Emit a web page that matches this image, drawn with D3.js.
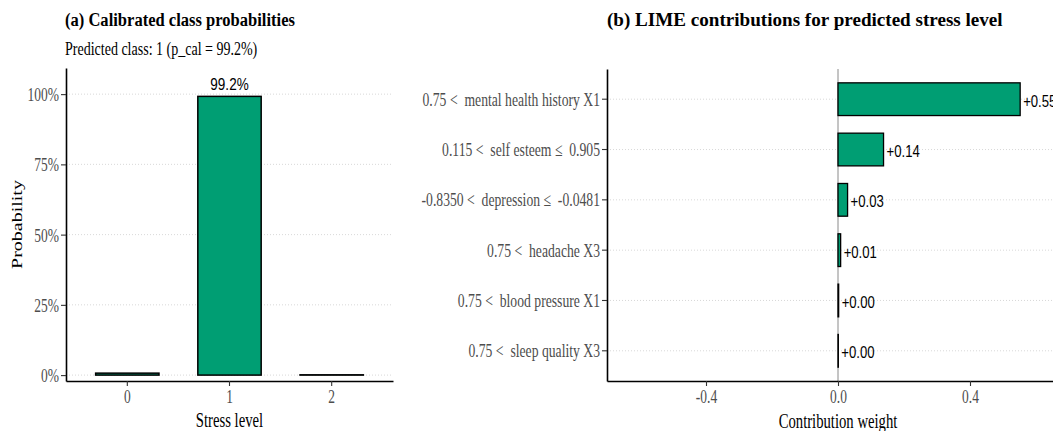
<!DOCTYPE html>
<html>
<head>
<meta charset="utf-8">
<script src="https://cdn.jsdelivr.net/npm/d3@7"></script>
<style>
  html, body { margin: 0; padding: 0; background: #ffffff; }
  svg { display: block; }
  text { white-space: pre; }
</style>
</head>
<body>
<script>
// ---- data -------------------------------------------------------------
const classes = ["0", "1", "2"];
const classProb = [0.007, 0.992, 0.001];
const probTicks = [0, 0.25, 0.5, 0.75, 1];

const features = [
  "0.75 <  mental health history X1",
  "0.115 <  self esteem \u2264  0.905",
  "-0.8350 <  depression \u2264  -0.0481",
  "0.75 <  headache X3",
  "0.75 <  blood pressure X1",
  "0.75 <  sleep quality X3"
];
const weights = [0.552, 0.138, 0.029, 0.008, 0.002, 0.001];
const weightTicks = [-0.4, 0, 0.4];

// ---- page setup -------------------------------------------------------
const W = 1053, H = 431;
const SERIF = "'Liberation Serif', 'Times New Roman', Times, serif";
const SANS = "'Liberation Sans', Arial, Helvetica, sans-serif";
const GREEN = "#009E73";
const TICK_TEXT = "#4d4d4d";

const svg = d3.select("body").append("svg")
  .attr("width", W).attr("height", H)
  .attr("viewBox", `0 0 ${W} ${H}`);
svg.append("rect").attr("width", W).attr("height", H).attr("fill", "#fff");

// condensed text: glyphs are narrowed horizontally around their anchor
function label(g, x, y, str, o) {
  const t = g.append("text")
    .attr("transform", `translate(${x},${y}) scale(${o.sx || 1},1)` + (o.rot ? ` rotate(${o.rot})` : ""))
    .attr("font-family", o.family || SERIF)
    .attr("font-size", o.size)
    .attr("font-weight", o.weight || "normal")
    .attr("fill", o.fill || "#000")
    .attr("text-anchor", o.anchor || "start")
    .text(str);
  return t;
}

function styleAxis(sel, o) {
  sel.select(".domain").attr("stroke", "#000").attr("stroke-width", 1.6);
  sel.selectAll(".tick line").attr("stroke", "#333").attr("stroke-width", 1.1);
  sel.selectAll(".tick text")
    .attr("font-family", SERIF)
    .attr("font-size", o.size)
    .attr("fill", TICK_TEXT)
    .each(function () {
      const t = d3.select(this);
      const x = +t.attr("x") || 0, y = +t.attr("y") || 0;
      t.attr("x", 0).attr("y", 0).attr("dy", null)
        .attr("transform", `translate(${x + (o.dx || 0)},${y + (o.dy || 0)}) scale(${o.sx},1)`);
    });
}

// ---- panel (a): calibrated class probabilities ------------------------
const pa = { left: 66, right: 393, top: 68, bottom: 381 };
const xA = d3.scaleBand().domain(classes).range([pa.left, pa.right])
  .paddingInner(0.38).paddingOuter(0.29);
const yA = d3.scaleLinear().domain([-0.021, 1.093]).range([pa.bottom, pa.top]);

const gA = svg.append("g");

gA.selectAll("line.grid").data(probTicks).join("line")
  .attr("x1", pa.left).attr("x2", pa.right)
  .attr("y1", d => yA(d)).attr("y2", d => yA(d))
  .attr("stroke", "#d4d4d4").attr("stroke-width", 0.9)
  .attr("stroke-dasharray", "1,2");

gA.selectAll("rect.bar").data(classes).join("rect")
  .attr("x", c => xA(c))
  .attr("width", xA.bandwidth())
  .attr("y", (c, i) => yA(classProb[i]))
  .attr("height", (c, i) => yA(0) - yA(classProb[i]))
  .attr("fill", GREEN).attr("stroke", "#000").attr("stroke-width", 1.5);

const best = d3.maxIndex(classProb);
const pct1 = d3.format(".1%");
label(gA, xA(classes[best]) + xA.bandwidth() / 2, yA(classProb[best]) - 6,
  pct1(classProb[best]), { family: SANS, size: 16.5, sx: 0.82, anchor: "middle" });

const axYA = gA.append("g").attr("transform", `translate(${pa.left},0)`)
  .call(d3.axisLeft(yA).tickValues(probTicks).tickFormat(d3.format(".0%"))
    .tickSize(5).tickSizeOuter(0).tickPadding(2));
styleAxis(axYA, { size: 19, sx: 0.71, dy: 6.5 });

const axXA = gA.append("g").attr("transform", `translate(0,${pa.bottom})`)
  .call(d3.axisBottom(xA).tickSize(5).tickSizeOuter(0).tickPadding(2));
styleAxis(axXA, { size: 19, sx: 0.71, dy: 15 });

label(gA, 65, 25.5, "(a) Calibrated class probabilities",
  { size: 19.7, weight: "bold", sx: 0.84 });
label(gA, 65, 55, `Predicted class: ${classes[best]} (p_cal = ${pct1(classProb[best])})`,
  { size: 18.2, sx: 0.77 });
label(gA, (pa.left + pa.right) / 2, 427, "Stress level", { size: 21, sx: 0.7, anchor: "middle" });
label(gA, 22, (pa.top + pa.bottom) / 2, "Probability",
  { size: 20, sx: 0.7, rot: -90, anchor: "middle" });

// ---- panel (b): LIME contributions -----------------------------------
const pb = { left: 607, right: 1069, top: 69, bottom: 381 };
const yB = d3.scaleBand().domain(features).range([pb.top, pb.bottom])
  .paddingInner(0.35).paddingOuter(0.275);
const xB = d3.scaleLinear().domain([-0.7, 0.7]).range([pb.left, pb.right]);

const gB = svg.append("g");

gB.selectAll("line.grid").data(features).join("line")
  .attr("x1", pb.left).attr("x2", pb.right)
  .attr("y1", f => yB(f) + yB.bandwidth() / 2).attr("y2", f => yB(f) + yB.bandwidth() / 2)
  .attr("stroke", "#d4d4d4").attr("stroke-width", 0.9)
  .attr("stroke-dasharray", "1,2");

gB.append("line")
  .attr("x1", xB(0)).attr("x2", xB(0))
  .attr("y1", pb.top).attr("y2", pb.bottom)
  .attr("stroke", "#8a8a8a").attr("stroke-width", 1);

gB.selectAll("rect.bar").data(features).join("rect")
  .attr("x", (f, i) => xB(Math.min(0, weights[i])))
  .attr("width", (f, i) => Math.abs(xB(weights[i]) - xB(0)))
  .attr("y", f => yB(f))
  .attr("height", yB.bandwidth())
  .attr("fill", GREEN).attr("stroke", "#000").attr("stroke-width", 1.3);

const fmtW = d3.format("+.2f");
features.forEach((f, i) => {
  label(gB, xB(weights[i]) + 3, yB(f) + yB.bandwidth() / 2 + 7.5, fmtW(weights[i]),
    { family: SANS, size: 16, sx: 0.82 });
});

const axYB = gB.append("g").attr("transform", `translate(${pb.left},0)`)
  .call(d3.axisLeft(yB).tickSize(5).tickSizeOuter(0).tickPadding(2));
styleAxis(axYB, { size: 19, sx: 0.72, dy: 6.5 });

const axXB = gB.append("g").attr("transform", `translate(0,${pb.bottom})`)
  .call(d3.axisBottom(xB).tickValues(weightTicks).tickFormat(d => d.toFixed(1))
    .tickSize(5).tickSizeOuter(0).tickPadding(2));
styleAxis(axXB, { size: 19, sx: 0.71, dy: 15 });

label(gB, 607, 25.5, "(b) LIME contributions for predicted stress level",
  { size: 19.7, weight: "bold", sx: 0.97 });
label(gB, (pb.left + pb.right) / 2, 427.5, "Contribution weight",
  { size: 21, sx: 0.7, anchor: "middle" });
</script>
</body>
</html>
